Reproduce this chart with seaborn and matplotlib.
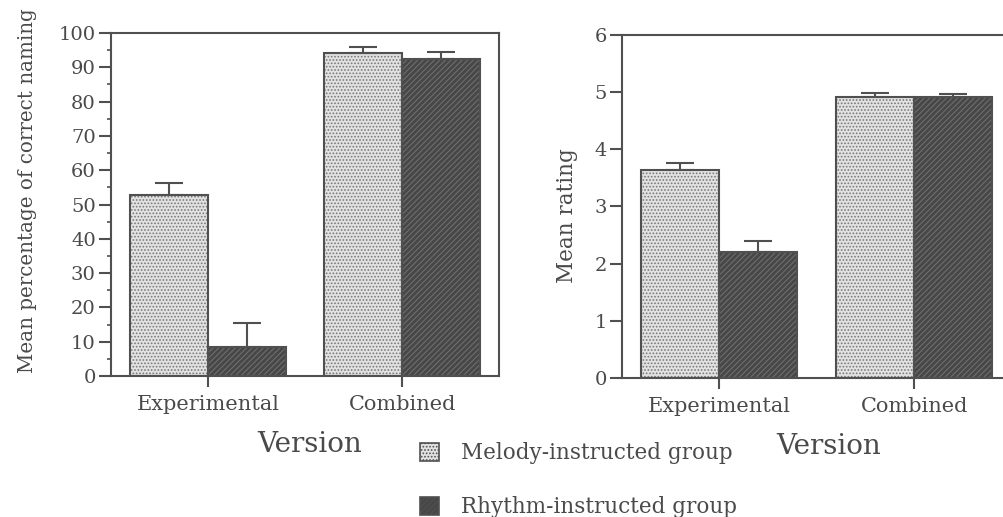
import pandas as pd
import matplotlib
matplotlib.use('Agg')
import matplotlib.pyplot as plt
from matplotlib.patches import Patch, Rectangle
from matplotlib.ticker import MultipleLocator
import seaborn as sns

# values
versions = ['Experimental', 'Combined']
groups = ['Melody-instructed group', 'Rhythm-instructed group']

naming_melody = [52.8, 94.1]
naming_rhythm = [8.5, 92.3]
naming_melody_err = [3.5, 1.8]
naming_rhythm_err = [6.9, 2.2]

rating_melody = [3.63, 4.92]
rating_rhythm = [2.21, 4.92]
rating_melody_err = [0.13, 0.06]
rating_rhythm_err = [0.19, 0.04]

TEXT = '#4a4a4a'
LINE = '#505050'

sns.set_style('ticks')
plt.rcParams['font.family'] = ['DejaVu Serif']
plt.rcParams['hatch.linewidth'] = 0.8
plt.rcParams['text.color'] = TEXT
plt.rcParams['axes.labelcolor'] = TEXT
plt.rcParams['xtick.color'] = LINE
plt.rcParams['ytick.color'] = LINE
plt.rcParams['xtick.labelcolor'] = TEXT
plt.rcParams['ytick.labelcolor'] = TEXT

styles = {
    groups[0]: dict(face='#e2e2e2', hatch='.....', hatchcol='#777777'),
    groups[1]: dict(face='#474747', hatch='//////', hatchcol='#6e6e6e'),
}


def make_frame(melody, rhythm, melody_err, rhythm_err):
    rows = []
    for g, vals, errs in [(groups[0], melody, melody_err), (groups[1], rhythm, rhythm_err)]:
        for v, val, e in zip(versions, vals, errs):
            rows.append({'version': v, 'group': g, 'value': val, 'err': e})
    return pd.DataFrame(rows)


def draw_panel(ax, df, ylabel, ymax, major, minor, ylab_xy, xlab_x, ylab_size):
    sns.barplot(data=df, x='version', y='value', hue='group', order=versions,
                hue_order=groups, errorbar=None, width=0.8, gap=0,
                legend=False, ax=ax)
    for g, cont in zip(groups, ax.containers):
        st = styles[g]
        errs = df[df['group'] == g].set_index('version').loc[versions, 'err'].values
        for bar, e in zip(cont, errs):
            bar.set_facecolor(st['face'])
            bar.set_edgecolor(st['hatchcol'])
            bar.set_hatch(st['hatch'])
            bar.set_linewidth(0)
            ax.add_patch(Rectangle(bar.get_xy(), bar.get_width(), bar.get_height(),
                                   fill=False, ec=LINE, lw=1.5, zorder=3))
            xc = bar.get_x() + bar.get_width() / 2
            ax.errorbar(xc, bar.get_height(), yerr=[[0], [e]], fmt='none',
                        ecolor=LINE, elinewidth=1.5, capsize=10, capthick=1.5,
                        zorder=2)
    ax.set_ylim(0, ymax)
    ax.set_xlim(-0.5, 1.5)
    ax.yaxis.set_major_locator(MultipleLocator(major))
    if minor:
        ax.yaxis.set_minor_locator(MultipleLocator(minor))
        ax.tick_params(axis='y', which='minor', length=3, width=1.2)
    ax.tick_params(axis='y', which='major', length=9, width=1.5, labelsize=14, pad=2)
    ax.tick_params(axis='x', length=8, width=1.5, labelsize=15, pad=6)
    for s in ax.spines.values():
        s.set_visible(True)
        s.set_color(LINE)
        s.set_linewidth(1.5)
    ax.set_ylabel(ylabel, fontsize=ylab_size)
    ax.yaxis.set_label_coords(*ylab_xy)
    ax.yaxis.label.set_va('center')
    ax.set_xlabel('Version', fontsize=20)
    ax.xaxis.set_label_coords(xlab_x, -0.20)
    ax.xaxis.label.set_va('center')


fig = plt.figure(figsize=(10.04, 5.17), dpi=100)
ax1 = fig.add_axes([0.1106, 0.2727, 0.3865, 0.6634])
ax2 = fig.add_axes([0.6195, 0.2689, 0.3884, 0.6634])

draw_panel(ax1, make_frame(naming_melody, naming_rhythm, naming_melody_err, naming_rhythm_err),
           'Mean percentage of correct naming', 100, 10, 5, (-0.2165, 0.54), 0.513, 14.3)
draw_panel(ax2, make_frame(rating_melody, rating_rhythm, rating_melody_err, rating_rhythm_err),
           'Mean rating', 6, 1, None, (-0.141, 0.475), 0.531, 15.5)

handles = [Patch(facecolor=styles[g]['face'], edgecolor=styles[g]['hatchcol'],
                 hatch=styles[g]['hatch'], linewidth=0) for g in groups]
leg = fig.legend(handles, groups, loc='upper left', bbox_to_anchor=(0.418, 0.145),
                 frameon=False, fontsize=15.5, handlelength=0.9, handleheight=0.9,
                 handletextpad=1.0, labelspacing=1.5, borderpad=0, borderaxespad=0)
for h in leg.legend_handles:
    h.set_edgecolor(LINE)
    h.set_linewidth(1.2)

fig.savefig('out.png', dpi=100)
